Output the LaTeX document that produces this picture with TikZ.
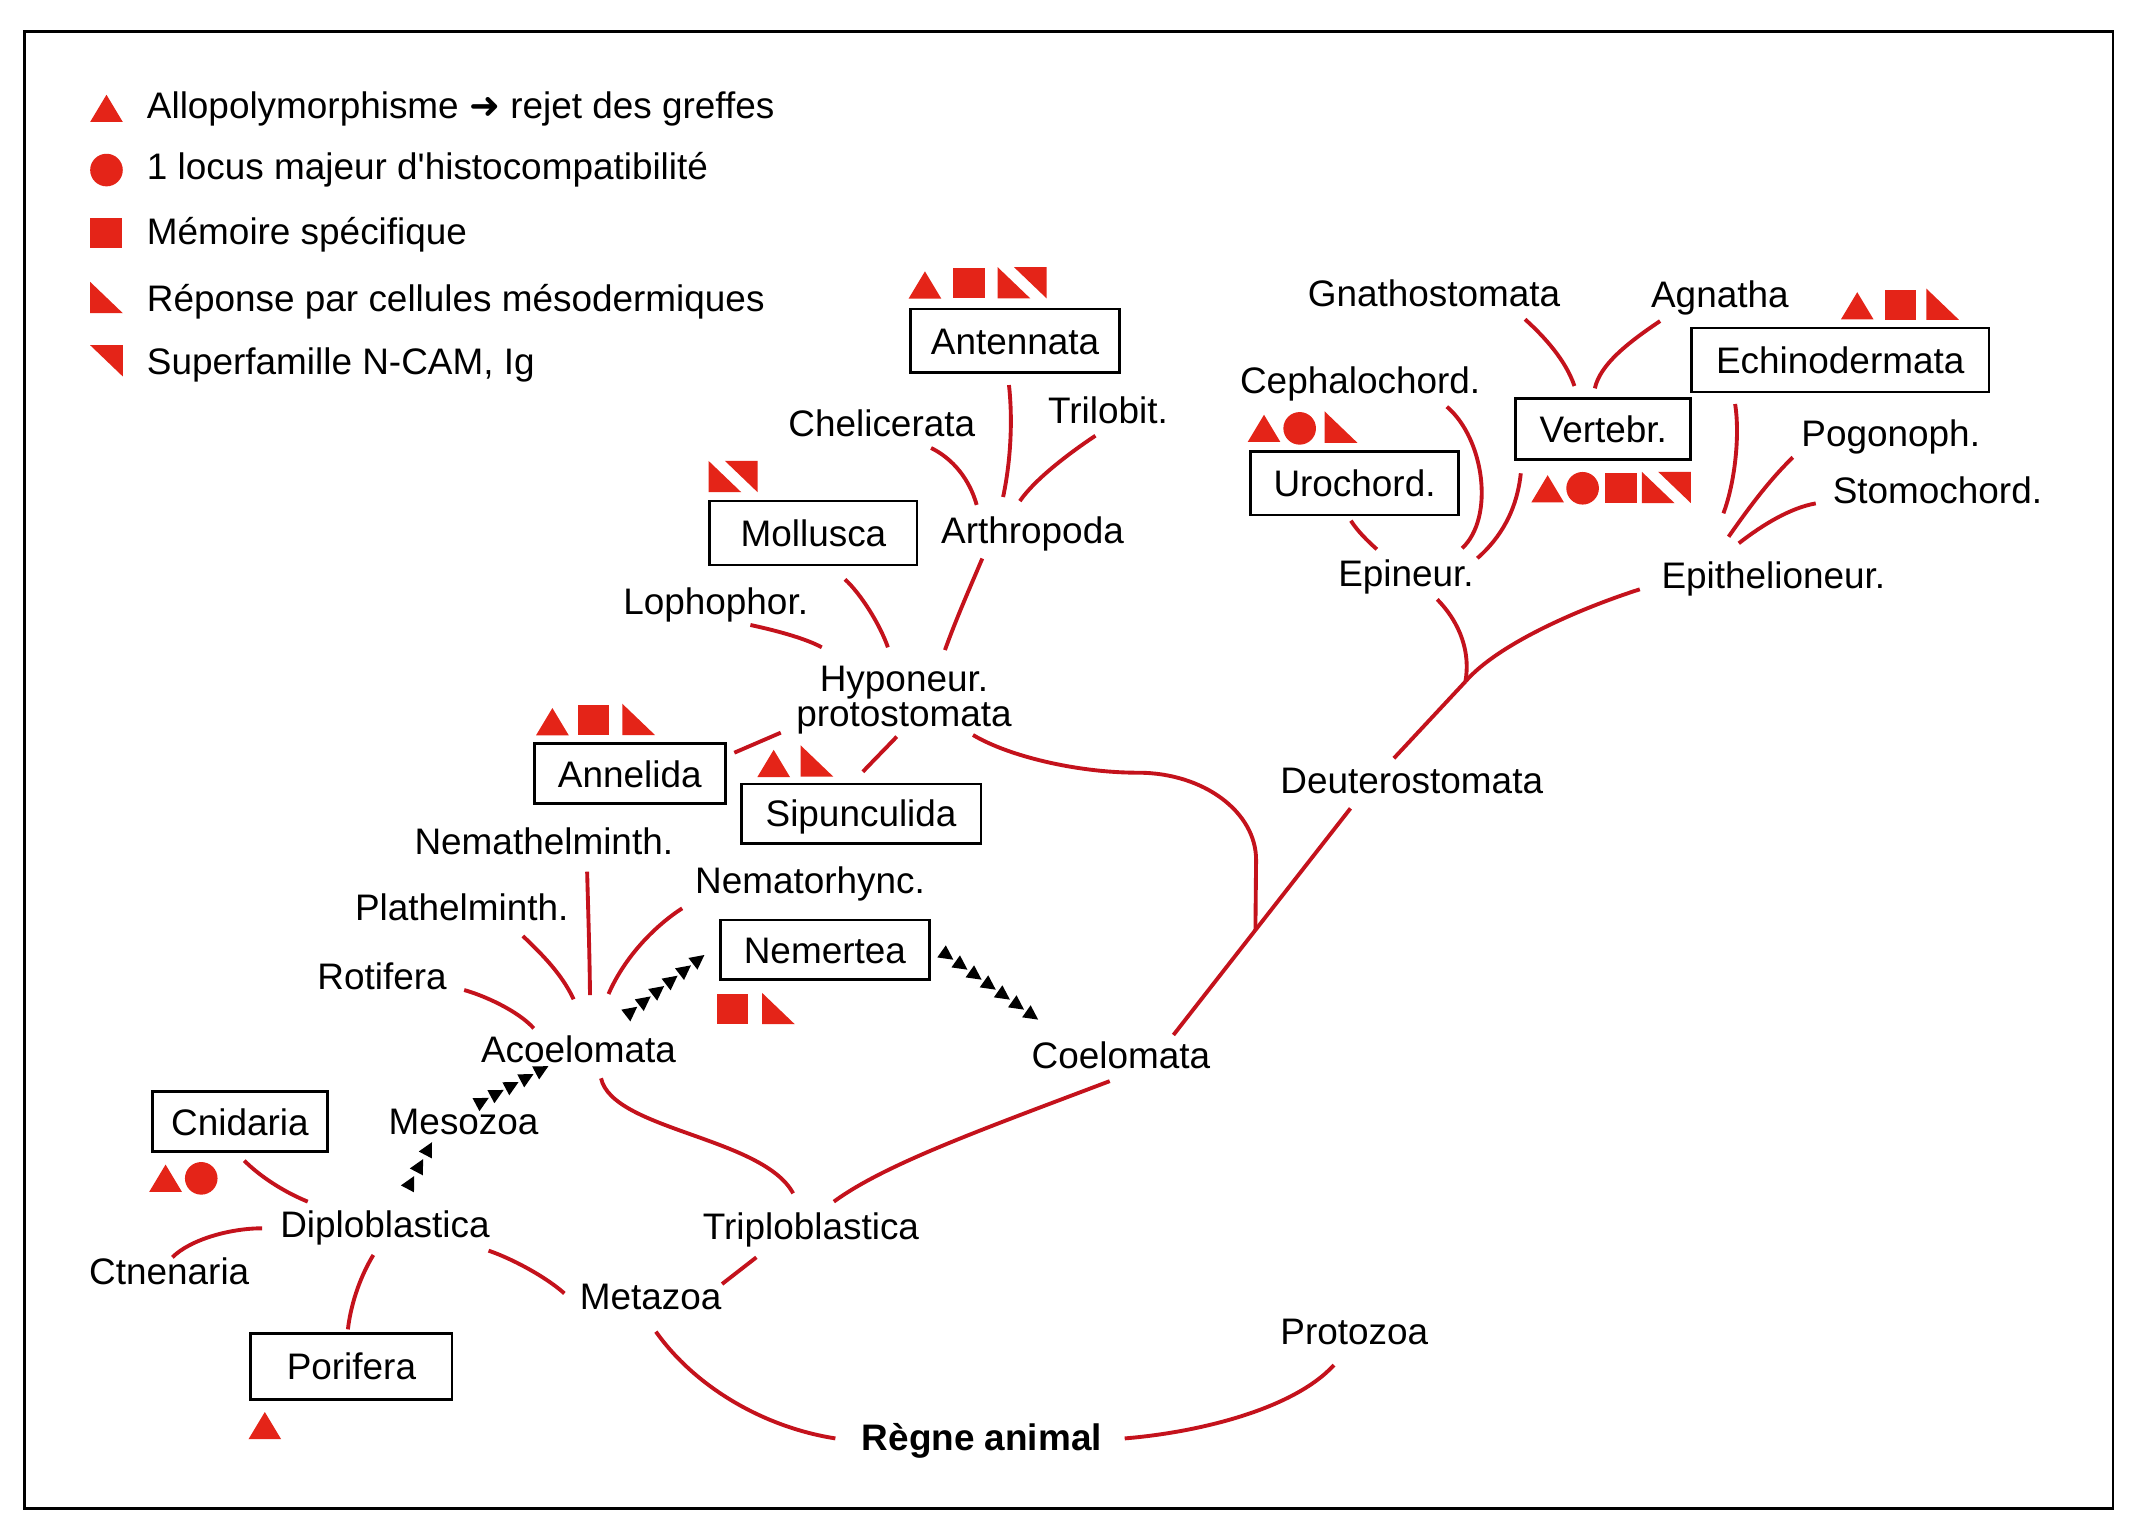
\documentclass[tikz,border=0pt]{standalone}
\usepackage{fontspec}
\setmainfont{Liberation Sans}
\newfontfamily\dejavu{DejaVu Sans}
\usetikzlibrary{calc}
\definecolor{linered}{RGB}{196,18,28}
\definecolor{iconred}{RGB}{228,36,24}
\tikzset{
  lbl/.style={font=\fontsize{10.5}{12}\selectfont, inner sep=0pt, anchor=base},
  leg/.style={font=\fontsize{10.5}{12}\selectfont, inner sep=0pt, anchor=base west},
  box/.style={draw, line width=0.8pt, inner sep=0pt, font=\fontsize{10.5}{12}\selectfont, text height=7.6pt, text depth=0pt},
  br/.style={draw=linered, line width=1.1pt},
  icotri/.pic={\fill[iconred] (-12,10) -- (12,10) -- (0,-10) -- cycle;},
  icocirc/.pic={\fill[iconred] (0,0) circle[radius=0.163cm];},
  icosq/.pic={\fill[iconred] (-11.5,-11) rectangle (11.5,11);},
  icomeso/.pic={\fill[iconred] (-12,-11.5) -- (-12,11.5) -- (12,11.5) -- cycle;},
  iconcam/.pic={\fill[iconred] (-12,-11.5) -- (12,-11.5) -- (12,11.5) -- cycle;},
  icopair/.pic={\fill[iconred] (-18,-11.5) -- (-18,11.5) -- (6,11.5) -- cycle;
                \fill[iconred] (-6,-11.5) -- (18,-11.5) -- (18,11.5) -- cycle;},
}
\newcommand\tchain[4]{%
  \foreach \k in {0,...,#3} {
    \fill[black, shift={($(#1)!{\k/#3}!(#2)$)}, rotate=#4] (2.3pt,0) -- (-1.8pt,2.1pt) -- (-1.8pt,-2.1pt) -- cycle;
  }}
\begin{document}
\begin{tikzpicture}[x=0.013616cm,y=-0.013616cm]
\useasboundingbox (0,0) rectangle (1568,1122.2);
\fill[white] (0,0) rectangle (1568,1122.2);
\draw[line width=0.7pt] (18,23.3) rectangle (1552,1107.8);

% ---------- legend
\pic at (78.2,79.6) {icotri};
\node[leg] (lg1) at (107.4,86.8) {Allopolymorphisme {\dejavu ➜} rejet des greffes};
\pic at (78.2,124.9) {icocirc};
\node[leg] (lg2) at (107.4,132.1) {1 locus majeur d\textquotesingle histocompatibilité};
\pic at (77.9,171.4) {icosq};
\node[leg] (lg3) at (107.4,179.9) {Mémoire spécifique};
\pic at (78.2,218.5) {icomeso};
\node[leg] (lg4) at (107.4,228.8) {Réponse par cellules mésodermiques};
\pic at (78.2,265) {iconcam};
\node[leg] (lg5) at (107.4,275.3) {Superfamille N-CAM, Ig};

% ---------- boxed taxa
\node[box, minimum width=2.083cm, minimum height=0.633cm] (antennata) at (745.5,250.2) {Antennata};
\node[box, minimum width=2.070cm, minimum height=0.640cm] (mollusca) at (597.4,391.5) {Mollusca};
\node[box, minimum width=1.906cm, minimum height=0.599cm] (annelida) at (462.5,568.2) {Annelida};
\node[box, minimum width=2.396cm, minimum height=0.591cm] (sipunculida) at (632.4,597.5) {Sipunculida};
\node[box, minimum width=2.089cm, minimum height=0.594cm] (nemertea) at (605.8,697.5) {Nemertea};
\node[box, minimum width=1.743cm, minimum height=0.599cm] (cnidaria) at (176.2,823.8) {Cnidaria};
\node[box, minimum width=2.010cm, minimum height=0.660cm] (porifera) at (258.1,1003.5) {Porifera};
\node[box, minimum width=2.083cm, minimum height=0.633cm] (urochord) at (994.8,355) {Urochord.};
\node[box, minimum width=1.750cm, minimum height=0.607cm] (vertebr) at (1177.5,314.9) {Vertebr.};
\node[box, minimum width=2.975cm, minimum height=0.640cm] (echino) at (1351.5,264.4) {Echinodermata};

% ---------- icons near taxa
\pic at (679.3,209.3) {icotri}; \pic at (711.7,208) {icosq}; \pic at (750.7,207.7) {icopair};
\pic at (538.4,350) {icopair};
\pic at (405.7,530) {icotri}; \pic at (435.7,528.9) {icosq}; \pic at (469,528.3) {icomeso};
\pic at (568.2,560.7) {icotri}; \pic at (600,558.9) {icomeso};
\pic at (538.2,741.3) {icosq}; \pic at (571.7,740.7) {icomeso};
\pic at (121.6,865.3) {icotri}; \pic at (147.8,865.4) {icocirc};
\pic at (194.5,1047) {icotri};
\pic at (928.3,314.6) {icotri}; \pic at (954.5,314.6) {icocirc}; \pic at (984.9,313.7) {icomeso};
\pic at (1136.6,359) {icotri}; \pic at (1162.3,358.6) {icocirc}; \pic at (1190.4,358.4) {icosq}; \pic at (1223.8,358) {icopair};
\pic at (1364,224.6) {icotri}; \pic at (1395.7,223.8) {icosq}; \pic at (1426.7,223.4) {icomeso};

% ---------- plain labels
\node[lbl] (chelic) at (647.6,320.7) {Chelicerata};
\node[lbl] (trilob) at (813.7,310.7) {Trilobit.};
\node[lbl] (arthro) at (758.3,399.5) {Arthropoda};
\node[lbl] (lopho) at (525.6,451.6) {Lophophor.};
\node[font=\fontsize{10.5}{10}\selectfont, inner sep=0pt, align=center] (hypo) at (663.9,514) {Hyponeur.\\protostomata};
\node[lbl] (nemath) at (399.4,627.9) {Nemathelminth.};
\node[lbl] (plath) at (339.1,676.1) {Plathelminth.};
\node[lbl] (nemato) at (594.9,656) {Nematorhync.};
\node[lbl] (rotif) at (280.6,727) {Rotifera};
\node[lbl] (acoel) at (424.9,780.5) {Acoelomata};
\node[lbl] (coel) at (823.2,784.5) {Coelomata};
\node[lbl] (deutero) at (1036.8,582.6) {Deuterostomata};
\node[lbl] (mesozoa) at (340.5,833.5) {Mesozoa};
\node[lbl] (diplo) at (282.7,908.7) {Diploblastica};
\node[lbl] (ctnen) at (124.3,943.7) {Ctnenaria};
\node[lbl] (triplo) at (595.6,910.6) {Triploblastica};
\node[lbl] (metazoa) at (477.8,962) {Metazoa};
\node[lbl, font=\fontsize{10.5}{12}\selectfont\bfseries] (regne) at (721.1,1065) {Règne animal};
\node[lbl] (protozoa) at (994.6,987.7) {Protozoa};
\node[lbl] (gnatho) at (1053.2,225.1) {Gnathostomata};
\node[lbl] (agnatha) at (1263.1,225.7) {Agnatha};
\node[lbl] (cephalo) at (998.9,288.8) {Cephalochord.};
\node[lbl] (pogono) at (1388.6,327.9) {Pogonoph.};
\node[leg] (stomo) at (1345.5,369.6) {Stomochord.};
\node[lbl] (epineur) at (1032.6,430.8) {Epineur.};
\node[lbl] (epithel) at (1302.4,432) {Epithelioneur.};

% ---------- connector end points
\coordinate (antS) at (741,282.8);     \coordinate (arthA) at (736.7,365);
\coordinate (chelS) at (683.8,329);    \coordinate (arthC) at (717.3,370.8);
\coordinate (trilS) at (804.5,320);    \coordinate (arthT) at (749,368);
\coordinate (arthS) at (721.4,410.2);  \coordinate (hypA) at (694,477.4);
\coordinate (molS) at (620.6,425.5);   \coordinate (hypM) at (652.1,475.4);
\coordinate (lophS) at (551.1,459);    \coordinate (hypL) at (603.5,475.4);
\coordinate (annS) at (539.3,552.8);   \coordinate (hypN) at (573.4,538.1);
\coordinate (sipS) at (633.7,566.8);   \coordinate (hypS) at (658.6,541);
\coordinate (hypC) at (714.6,539.8);   \coordinate (hypK) at (836,567.5);
\coordinate (junc1) at (922.5,631.6);  \coordinate (junc2) at (922,683);
\coordinate (coelD) at (861.8,760.1);  \coordinate (deutC) at (991.8,593.7);
\coordinate (deutU) at (1023.7,556.9); \coordinate (junc3) at (1076.2,500.6);
\coordinate (epinD) at (1055.5,440.2); \coordinate (epitD) at (1204.3,432.8);
\coordinate (uroS) at (992.1,382.4);   \coordinate (epinU) at (1011.2,403.4);
\coordinate (cephS) at (1062.6,298.7); \coordinate (epinC) at (1073.8,402.7);
\coordinate (vertS) at (1116.9,347.6); \coordinate (epinV) at (1085,410);
\coordinate (gnaS) at (1120,234.5);    \coordinate (vertG) at (1156.3,283.5);
\coordinate (agnS) at (1219.2,235.8);  \coordinate (vertA) at (1171.3,285.2);
\coordinate (echS) at (1274.3,296.7);  \coordinate (epitE) at (1265.7,377);
\coordinate (pogS) at (1316.7,335.9);  \coordinate (epitP) at (1269.5,394.2);
\coordinate (stoS) at (1333.5,369.7);  \coordinate (epitS) at (1277,399);
\coordinate (rotS) at (340.9,727.1);   \coordinate (acoR) at (392,755.2);
\coordinate (plaS) at (384,687.4);     \coordinate (acoP) at (421.3,733.9);
\coordinate (nmhS) at (431.2,640.2);   \coordinate (acoN) at (433.3,730.8);
\coordinate (nmrS) at (501,667.1);     \coordinate (acoM) at (446.9,730);
\coordinate (acoT) at (441.4,791.9);   \coordinate (triA) at (582.5,876.4);
\coordinate (triC) at (612.4,882.5);   \coordinate (coelT) at (815,794);
\coordinate (metD) at (414.5,949.9);   \coordinate (dipM) at (358.8,918.5);
\coordinate (metT) at (530.3,943);     \coordinate (triM) at (555.5,923.4);
\coordinate (metR) at (481.7,978);     \coordinate (regM) at (613.5,1056.4);
\coordinate (regP) at (826,1056.4);    \coordinate (proR) at (979.7,1002.5);
\coordinate (dipC) at (226,882.5);     \coordinate (cniD) at (179.4,852.4);
\coordinate (dipT) at (192.5,902.1);   \coordinate (ctnD) at (126.6,923.4);
\coordinate (dipP) at (274.2,921.7);   \coordinate (porD) at (255.5,976.3);

% ---------- red branches
\draw[br] (antS) .. controls (744,310) and (742,340) .. (arthA);
\draw[br] (chelS) .. controls (700,337) and (712,352) .. (arthC);
\draw[br] (trilS) .. controls (785,333) and (760,352) .. (arthT);
\draw[br] (arthS) .. controls (713,430) and (702,455) .. (hypA);
\draw[br] (molS) .. controls (632,436) and (646,458) .. (hypM);
\draw[br] (lophS) .. controls (565,462) and (590,468) .. (hypL);
\draw[br] (annS) -- (hypN);
\draw[br] (sipS) .. controls (643,557) and (651,549) .. (hypS);
\draw[br] (hypC) .. controls (740,555) and (790,567.5) .. (hypK)
          .. controls (883.8,567.5) and (922.5,596.3) .. (junc1) -- (junc2);
\draw[br] (coelD) -- (deutC);
\draw[br] (deutU) -- (junc3);
\draw[br] (junc3) .. controls (1080,480) and (1073,458) .. (epinD);
\draw[br] (junc3) .. controls (1100,473) and (1160,447) .. (epitD);
\draw[br] (uroS) .. controls (997,390) and (1004,397) .. (epinU);
\draw[br] (cephS) .. controls (1090,322) and (1098,380) .. (epinC);
\draw[br] (vertS) .. controls (1114,375) and (1102,395) .. (epinV);
\draw[br] (gnaS) .. controls (1135,248) and (1150,265) .. (vertG);
\draw[br] (agnS) .. controls (1195,252) and (1175,268) .. (vertA);
\draw[br] (echS) .. controls (1278,320) and (1274,355) .. (epitE);
\draw[br] (pogS) .. controls (1300,352) and (1285,372) .. (epitP);
\draw[br] (stoS) .. controls (1315,373) and (1295,385) .. (epitS);
\draw[br] (rotS) .. controls (355,731) and (380,742) .. (acoR);
\draw[br] (plaS) .. controls (396,699) and (412,714) .. (acoP);
\draw[br] (nmhS) .. controls (432,670) and (433,700) .. (acoN);
\draw[br] (nmrS) .. controls (484,678) and (460,700) .. (acoM);
\draw[br] (acoT) .. controls (450,830) and (560,835) .. (triA);
\draw[br] (triC) .. controls (650,855) and (720,830) .. (coelT);
\draw[br] (metD) .. controls (400,937) and (375,924) .. (dipM);
\draw[br] (metT) -- (triM);
\draw[br] (metR) .. controls (510,1018) and (560,1048) .. (regM);
\draw[br] (regP) .. controls (880,1052) and (950,1035) .. (proR);
\draw[br] (dipC) .. controls (210,876) and (192,865) .. (cniD);
\draw[br] (dipT) .. controls (170,902) and (140,910) .. (ctnD);
\draw[br] (dipP) .. controls (266,935) and (258,955) .. (porD);

% ---------- triangle chains
\coordinate (t1a) at (301.4,869);   \coordinate (t1b) at (314.5,844.1);
\coordinate (t2a) at (353.7,809.1); \coordinate (t2b) at (397.5,785.8);
\coordinate (t3a) at (463.3,743);   \coordinate (t3b) at (512.6,705);
\coordinate (t4a) at (695.3,701.4); \coordinate (t4b) at (757.6,745.4);
\tchain{t1a}{t1b}{2}{62.2}
\tchain{t2a}{t2b}{4}{28}
\tchain{t3a}{t3b}{5}{37.6}
\tchain{t4a}{t4b}{6}{-35.2}
\end{tikzpicture}
\end{document}
